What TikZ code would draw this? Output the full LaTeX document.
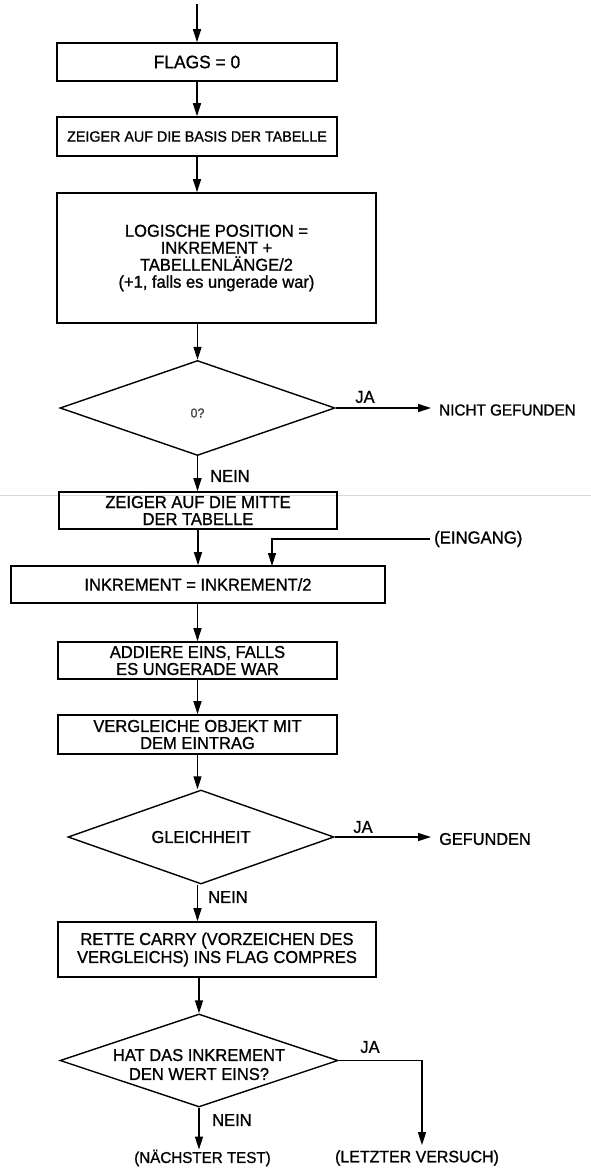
\documentclass[tikz,border=0pt]{standalone}
\usepackage{fontspec}
\setmainfont{Liberation Sans}[FakeBold=1,FakeStretch=0.96]
\usetikzlibrary{shapes.geometric,arrows.meta}
\newcommand\myfs{\fontsize{17.2}{17}\selectfont}
\begin{document}
\begin{tikzpicture}[x=1pt,y=-1pt,
  box/.style={draw, line width=1.6pt, inner sep=0pt, align=center, font=\myfs},
  dia/.style={draw, diamond, shape aspect=2.9, line width=1.4pt, inner sep=0pt, align=center, font=\myfs},
  arr/.style={-{Triangle[length=13pt,width=8pt]}, line width=1.4pt},
  lbl/.style={inner sep=0pt, font=\myfs}]
\useasboundingbox (0,0) rectangle (591,1170);
\fill[white] (0,0) rectangle (591,1170);
\draw[gray!30, line width=1pt] (0,495) -- (591,495);
% nodes
\coordinate (start) at (197,4);
\node[box, minimum width=280, minimum height=38, font=\fontsize{18.1}{19}\selectfont] (b1) at (197,62) {\raisebox{-2pt}{FLAGS = 0}};
\node[box, minimum width=280, minimum height=39, font=\fontsize{14.9}{16}\selectfont] (b2) at (197,136.5) {ZEIGER AUF DIE BASIS DER TABELLE};
\node[box, minimum width=319, minimum height=130] (b3) at (216.5,258) {LOGISCHE POSITION =\\INKREMENT +\\TABELLENLÄNGE/2\\(+1, falls es ungerade war)};
\node[dia, minimum width=275, minimum height=95, font=\fontsize{13}{14}\selectfont, text=black!75] (d1) at (197.5,408) {\raisebox{-9.5pt}[0pt][0pt]{0?}};
\node[lbl] (ja1) at (365,397) {JA};
\node[lbl, anchor=west, font=\fontsize{15.9}{17}\selectfont] (nf) at (439,410) {NICHT GEFUNDEN};
\node[lbl, anchor=west] (nein1) at (210,476) {NEIN};
\node[box, minimum width=278, minimum height=37] (b4) at (198,510.5) {ZEIGER AUF DIE MITTE\\DER TABELLE};
\node[lbl, anchor=west, font=\fontsize{17.4}{18}\selectfont] (eing) at (434,539) {(EINGANG)};
\node[box, minimum width=374, minimum height=37] (b5) at (198,584.5) {INKREMENT = INKREMENT/2};
\coordinate (e1) at (272,566);
\node[box, minimum width=279, minimum height=37] (b6) at (197.5,660.5) {ADDIERE EINS, FALLS\\ES UNGERADE WAR};
\node[box, minimum width=279, minimum height=39] (b7) at (197.5,734.5) {VERGLEICHE OBJEKT MIT\\DEM EINTRAG};
\node[dia, minimum width=266, minimum height=94] (d2) at (201,837) {GLEICHHEIT};
\node[lbl] (ja2) at (363,827) {JA};
\node[lbl, anchor=west, font=\fontsize{17}{18}\selectfont] (gef) at (439,839) {GEFUNDEN};
\node[lbl, anchor=west] (nein2) at (208,897) {NEIN};
\node[box, minimum width=318, minimum height=55, font=\fontsize{17.2}{18}\selectfont] (b8) at (217,949.5) {RETTE CARRY (VORZEICHEN DES\\VERGLEICHS) INS FLAG COMPRES};
\node[dia, minimum width=278, minimum height=93, font=\fontsize{17.2}{19}\selectfont] (d3) at (199,1060.5) {\raisebox{-10.5pt}[0pt][0pt]{\begin{tabular}{@{}c@{}}HAT DAS INKREMENT\\DEN WERT EINS?\end{tabular}}};
\node[lbl] (ja3) at (370,1047) {JA};
\node[lbl, anchor=west] (nein3) at (212,1120) {NEIN};
\node[lbl, font=\fontsize{15.8}{17}\selectfont] (nt) at (202.5,1158) {(NÄCHSTER TEST)};
\node[lbl, font=\fontsize{16.6}{17}\selectfont] (lv) at (417,1158) {(LETZTER VERSUCH)};
% connectors
\draw[arr] (start) -- (b1.north);
\draw[arr] (b1) -- (b2);
\draw[arr] (b2.south) -- (b2.south |- b3.north);
\draw[arr] (b3.south -| d1.north) -- (d1.north);
\draw[arr, shorten >=8pt] (d1.east) -- (d1.east -| nf.west);
\draw[arr] (d1.south) -- (d1.south |- b4.north);
\draw[arr] (b4.south) -- (b4.south |- b5.north);
\draw[arr, shorten <=4pt] (eing.west) -| (e1);
\draw[arr] (b5.south -| b6.north) -- (b6.north);
\draw[arr] (b6) -- (b7);
\draw[arr] (b7.south) -- (b7.south |- d2.north);
\draw[arr, shorten >=8pt] (d2.east) -- (d2.east -| gef.west);
\draw[arr] (d2.south -| b7.south) -- (b7.south |- b8.north);
\draw[arr] (b8.south -| d3.north) -- (d3.north);
\draw[arr] (d3.east) -| ([xshift=5pt,yshift=5pt]lv.north);
\draw[arr] (d3.south) -- (d3.south |- nt.north);
\end{tikzpicture}
\end{document}
